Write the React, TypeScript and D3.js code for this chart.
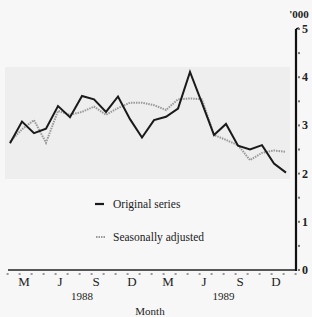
import { useEffect, useRef } from "react";
import * as d3 from "d3";

// Feb 1988 .. Jan 1990, thousands
const monthIdx = d3.range(24);
const original = [2.63, 3.08, 2.84, 2.93, 3.4, 3.17, 3.61, 3.54, 3.28, 3.6, 3.13, 2.75, 3.11, 3.18, 3.35, 4.11, 3.46, 2.8, 3.03, 2.58, 2.5, 2.59, 2.21, 2.02];
const adjusted = [2.66, 2.92, 3.11, 2.64, 3.3, 3.22, 3.28, 3.39, 3.22, 3.36, 3.47, 3.47, 3.42, 3.32, 3.54, 3.56, 3.54, 2.8, 2.7, 2.59, 2.28, 2.43, 2.48, 2.45];
const monthTickIdx = [1, 4, 7, 10, 13, 16, 19, 22];
const monthTickText = ["M", "J", "S", "D", "M", "J", "S", "D"];
const yearText = ["1988", "1989"];
const yearIdx = [6, 17.8];
const yTicks = [0, 1, 2, 3, 4, 5];

const App = () => {
  const ref = useRef<SVGSVGElement>(null);

  useEffect(() => {
    const svg = d3.select(ref.current);
    svg.selectAll("*").remove();

    const x = d3.scaleLinear().domain([0, 23]).range([10, 286]);
    const y = d3.scaleLinear().domain([0, 5]).range([270, 29]);
    const font = "'Liberation Serif', 'DejaVu Serif', serif";

    svg.append("rect").attr("width", 312).attr("height", 317).attr("fill", "#f7f7f7");
    // faint scan shading behind the lines
    svg.append("rect").attr("x", 5).attr("y", 67).attr("width", 285).attr("height", 112).attr("fill", "#eeeeee");

    // x axis
    svg.append("line").attr("x1", 8).attr("x2", 296).attr("y1", y(0)).attr("y2", y(0))
      .attr("stroke", "#222").attr("stroke-width", 1.6);
    svg.append("g").selectAll("rect").data(d3.range(-0.2, 24.5, 1)).enter().append("rect")
      .attr("x", (d) => x(d) - 1).attr("y", y(0) + 3).attr("width", 2).attr("height", 2)
      .attr("fill", "#999");

    svg.append("g").selectAll("text").data(monthTickIdx).enter().append("text")
      .attr("x", (d) => x(d) + 2).attr("y", 286)
      .attr("text-anchor", "middle").attr("font-family", font).attr("font-size", 13)
      .attr("fill", "#222")
      .text((d, i) => monthTickText[i]);

    svg.append("g").selectAll("text").data(yearText).enter().append("text")
      .attr("x", (d, i) => x(yearIdx[i])).attr("y", 300)
      .attr("text-anchor", "middle").attr("font-family", font).attr("font-size", 11)
      .attr("fill", "#222").text((d) => d);

    svg.append("text").attr("x", 150).attr("y", 315).attr("text-anchor", "middle")
      .attr("font-family", font).attr("font-size", 11).attr("fill", "#222").text("Month");

    // y axis on the right
    svg.append("line").attr("x1", 296).attr("x2", 296).attr("y1", y(5)).attr("y2", y(0) + 1)
      .attr("stroke", "#111").attr("stroke-width", 2.2);
    svg.append("line").attr("x1", 296).attr("x2", 299).attr("y1", y(5)).attr("y2", y(5) - 1)
      .attr("stroke", "#111").attr("stroke-width", 1.5);
    svg.append("g").selectAll("rect").data(d3.range(0, 5.01, 0.5)).enter().append("rect")
      .attr("x", 298).attr("y", (d) => y(d) - 1).attr("width", 2).attr("height", 2)
      .attr("fill", "#777");
    svg.append("g").selectAll("text").data(yTicks).enter().append("text")
      .attr("x", 302).attr("y", (d) => y(d) + 4)
      .attr("font-family", font).attr("font-size", 12).attr("font-weight", "bold")
      .attr("fill", "#222").text((d) => d);
    svg.append("text").attr("x", 299).attr("y", 18).attr("text-anchor", "middle")
      .attr("font-family", font).attr("font-size", 11).attr("font-weight", "bold")
      .attr("fill", "#222").text("'000");

    const line = d3.line<number>().x((d, i) => x(monthIdx[i])).y((d) => y(d));

    svg.append("path").datum(adjusted).attr("d", line).attr("fill", "none")
      .attr("stroke", "#999").attr("stroke-width", 2).attr("stroke-dasharray", "1.5,1");
    svg.append("path").datum(original).attr("d", line).attr("fill", "none")
      .attr("stroke", "#1a1a1a").attr("stroke-width", 2).attr("stroke-linejoin", "miter");

    // legend
    svg.append("line").attr("x1", 95).attr("x2", 104).attr("y1", 204).attr("y2", 204)
      .attr("stroke", "#1a1a1a").attr("stroke-width", 2.2);
    svg.append("text").attr("x", 113).attr("y", 208).attr("font-family", font)
      .attr("font-size", 11.5).attr("fill", "#222").text("Original series");
    svg.append("line").attr("x1", 96).attr("x2", 105).attr("y1", 237).attr("y2", 237)
      .attr("stroke", "#999").attr("stroke-width", 2).attr("stroke-dasharray", "1.5,1");
    svg.append("text").attr("x", 113).attr("y", 241).attr("font-family", font)
      .attr("font-size", 11.5).attr("fill", "#222").text("Seasonally adjusted");
  }, []);

  return (
    <svg ref={ref} width={312} height={317}
      style={{ position: "absolute", left: 0, top: 0 }} />
  );
};

export default App;
